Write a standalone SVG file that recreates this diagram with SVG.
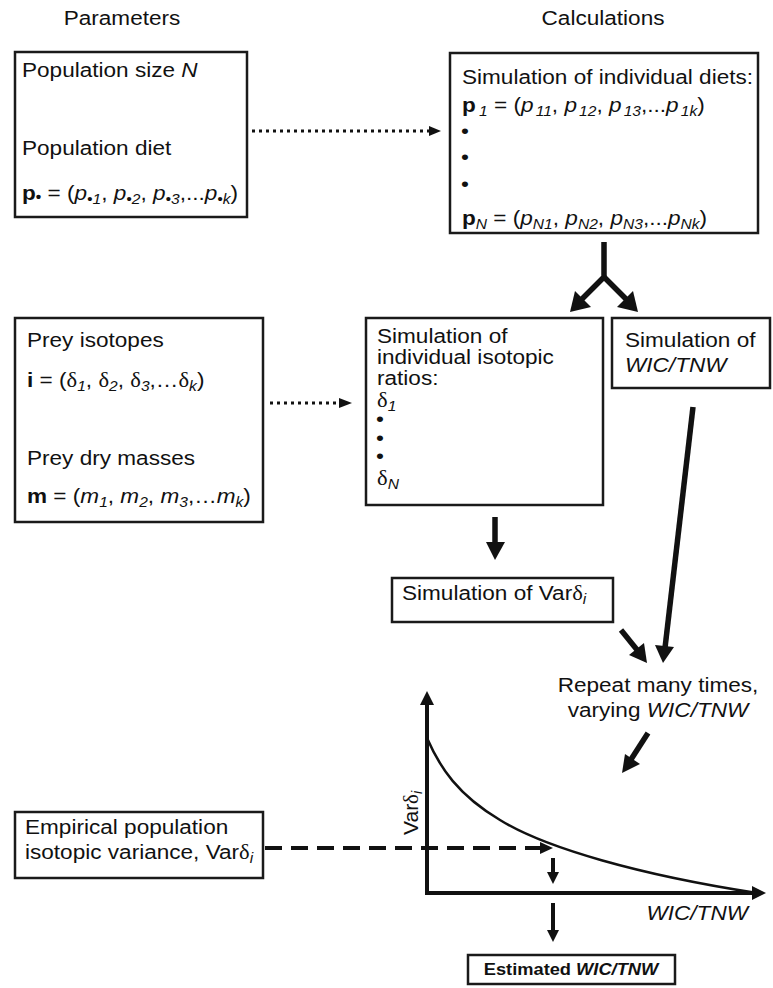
<svg xmlns="http://www.w3.org/2000/svg" width="773" height="988" viewBox="0 0 773 988">
<defs>
<style>
text{font-family:"Liberation Sans",Arial,sans-serif;font-size:21px;fill:#111}
.b{font-weight:bold}
.i{font-style:italic}
.s{font-size:14.5px}
.g{font-family:"Liberation Serif","Times New Roman",serif}
.box{fill:#fff;stroke:#1a1a1a;stroke-width:2.5}
.thick{stroke:#111;stroke-width:5.5;fill:none}
.ax{stroke:#111;stroke-width:4;fill:none}
.dot{stroke:#111;stroke-width:3;stroke-dasharray:3 4;fill:none}
.dash{stroke:#111;stroke-width:4;stroke-dasharray:17 9;fill:none}
.head{fill:#111}
</style>
</defs>
<rect width="773" height="988" fill="#fff"/>

<text id="hdr-params" transform="matrix(1.075 0 0 1 122 25)" text-anchor="middle">Parameters</text>
<text id="hdr-calc" transform="matrix(1.075 0 0 1 603 25)" text-anchor="middle">Calculations</text>

<g id="connectors">
  <line class="dot" x1="252" y1="131" x2="429" y2="131"/>
  <polygon class="head" points="429,126 441,131 429,136"/>
  <line class="dot" x1="270" y1="403" x2="339" y2="403"/>
  <polygon class="head" points="339,398 352,403 339,408"/>
  <polyline class="thick" points="604,242 604,277 580,301"/>
  <line class="thick" x1="604" y1="277" x2="628" y2="301"/>
  <polygon class="head" points="570,312 575,291 591,307"/>
  <polygon class="head" points="638,312 617,307 633,291"/>
  <line class="thick" x1="693" y1="407" x2="665" y2="648"/>
  <polygon class="head" points="663,663 655,645 674,647"/>
  <line class="thick" x1="495" y1="517" x2="495" y2="545"/>
  <polygon class="head" points="486,542 505,542 495,560"/>
  <line class="thick" x1="621" y1="630" x2="638" y2="651"/>
  <polygon class="head" points="647,663 629,655 644,643"/>
  <line class="thick" x1="648" y1="733" x2="630" y2="761"/>
  <polygon class="head" points="622,773 625,754 640,764"/>
  <line class="ax" x1="427" y1="893" x2="427" y2="702"/>
  <polygon class="head" points="420,705 427,691 434,705"/>
  <line class="ax" x1="425" y1="893" x2="754" y2="893"/>
  <polygon class="head" points="752,886 766,893 752,900"/>
  <path d="M427,738 C440,768 458,795 500,820 C545,848 640,875 757,893" stroke="#111" stroke-width="2.5" fill="none"/>
  <line class="dash" x1="265" y1="848" x2="540" y2="848"/>
  <polygon class="head" points="540,842 553,848 540,854"/>
  <line class="ax" x1="553" y1="858" x2="553" y2="874"/>
  <polygon class="head" points="547,872 559,872 553,884"/>
  <line class="ax" x1="553" y1="903" x2="553" y2="932"/>
  <polygon class="head" points="547,930 559,930 553,942"/>
</g>

<g id="node-params">
  <rect class="box" x="15" y="52" width="232" height="165"/>
  <text transform="matrix(1.075 0 0 1 22 77)">Population size <tspan class="i">N</tspan></text>
  <text transform="matrix(1.075 0 0 1 22 155)">Population diet</text>
  <text transform="matrix(1.075 0 0 1 22 200)"><tspan class="b">p</tspan><tspan class="b s" dy="2">•</tspan><tspan dy="-2"> = (</tspan><tspan class="i">p</tspan><tspan class="i s" dy="4">•1</tspan><tspan dy="-4">, </tspan><tspan class="i">p</tspan><tspan class="i s" dy="4">•2</tspan><tspan dy="-4">, </tspan><tspan class="i">p</tspan><tspan class="i s" dy="4">•3</tspan><tspan dy="-4">,...</tspan><tspan class="i">p</tspan><tspan class="i s" dy="4">•k</tspan><tspan dy="-4">)</tspan></text>
</g>

<g id="node-diets">
  <rect class="box" x="450" y="53" width="308" height="180"/>
  <text transform="matrix(1.075 0 0 1 462 84)">Simulation of individual diets:</text>
  <text transform="matrix(1.075 0 0 1 462 112)"><tspan class="b">p</tspan><tspan class="i s" dx="3" dy="4">1</tspan><tspan dy="-4"> = (</tspan><tspan class="i">p</tspan><tspan class="i s" dx="2" dy="4">11</tspan><tspan dy="-4">, </tspan><tspan class="i">p</tspan><tspan class="i s" dx="2" dy="4">12</tspan><tspan dy="-4">, </tspan><tspan class="i">p</tspan><tspan class="i s" dx="2" dy="4">13</tspan><tspan dy="-4">,...</tspan><tspan class="i">p</tspan><tspan class="i s" dx="2" dy="4">1k</tspan><tspan dy="-4">)</tspan></text>
  <text transform="matrix(1.075 0 0 1 461 138)">•</text>
  <text transform="matrix(1.075 0 0 1 461 164)">•</text>
  <text transform="matrix(1.075 0 0 1 461 191)">•</text>
  <text transform="matrix(1.075 0 0 1 462 225)"><tspan class="b">p</tspan><tspan class="i s" dy="4">N</tspan><tspan dy="-4"> = (</tspan><tspan class="i">p</tspan><tspan class="i s" dy="4">N1</tspan><tspan dy="-4">, </tspan><tspan class="i">p</tspan><tspan class="i s" dy="4">N2</tspan><tspan dy="-4">, </tspan><tspan class="i">p</tspan><tspan class="i s" dy="4">N3</tspan><tspan dy="-4">,...</tspan><tspan class="i">p</tspan><tspan class="i s" dy="4">Nk</tspan><tspan dy="-4">)</tspan></text>
</g>

<g id="node-prey">
  <rect class="box" x="15" y="318" width="248" height="204"/>
  <text transform="matrix(1.075 0 0 1 27 347)">Prey isotopes</text>
  <text transform="matrix(1.075 0 0 1 27 387)"><tspan class="b">i</tspan> = (<tspan class="g">δ</tspan><tspan class="i s" dy="4">1</tspan><tspan dy="-4">, </tspan><tspan class="g">δ</tspan><tspan class="i s" dy="4">2</tspan><tspan dy="-4">, </tspan><tspan class="g">δ</tspan><tspan class="i s" dy="4">3</tspan><tspan dy="-4">,…</tspan><tspan class="g">δ</tspan><tspan class="i s" dy="4">k</tspan><tspan dy="-4">)</tspan></text>
  <text transform="matrix(1.075 0 0 1 27 465)">Prey dry masses</text>
  <text transform="matrix(1.075 0 0 1 27 503)"><tspan class="b">m</tspan> = (<tspan class="i">m</tspan><tspan class="i s" dy="4">1</tspan><tspan dy="-4">, </tspan><tspan class="i">m</tspan><tspan class="i s" dy="4">2</tspan><tspan dy="-4">, </tspan><tspan class="i">m</tspan><tspan class="i s" dy="4">3</tspan><tspan dy="-4">,…</tspan><tspan class="i">m</tspan><tspan class="i s" dy="4">k</tspan><tspan dy="-4">)</tspan></text>
</g>

<g id="node-ratios">
  <rect class="box" x="366" y="318" width="237" height="187"/>
  <text transform="matrix(1.075 0 0 1 377 343)">Simulation of</text>
  <text transform="matrix(1.075 0 0 1 377 364)">individual isotopic</text>
  <text transform="matrix(1.075 0 0 1 377 385)">ratios:</text>
  <text transform="matrix(1.075 0 0 1 377 407)"><tspan class="g">δ</tspan><tspan class="i s" dy="4">1</tspan></text>
  <text transform="matrix(1.075 0 0 1 376 426)">•</text>
  <text transform="matrix(1.075 0 0 1 376 445)">•</text>
  <text transform="matrix(1.075 0 0 1 376 463)">•</text>
  <text transform="matrix(1.075 0 0 1 377 485)"><tspan class="g">δ</tspan><tspan class="i s" dy="4">N</tspan></text>
</g>

<g id="node-wic">
  <rect class="box" x="612" y="318" width="158" height="70"/>
  <text transform="matrix(1.075 0 0 1 625 347)">Simulation of</text>
  <text class="i" transform="matrix(1.075 0 0 1 625 372)">WIC/TNW</text>
</g>

<g id="node-var">
  <rect class="box" x="392" y="578" width="221" height="44"/>
  <text transform="matrix(1.075 0 0 1 402 600)">Simulation of Var<tspan class="g">δ</tspan><tspan class="i s" dy="4">i</tspan></text>
</g>

<g id="node-repeat">
  <text transform="matrix(1.075 0 0 1 658 692)" text-anchor="middle">Repeat many times,</text>
  <text transform="matrix(1.075 0 0 1 658 717)" text-anchor="middle">varying <tspan class="i">WIC/TNW</tspan></text>
</g>

<g id="node-graph">
  <text transform="translate(418 835) rotate(-90)">Var<tspan class="g">δ</tspan><tspan class="i s" dy="4">i</tspan></text>
  <text class="i" transform="matrix(1.075 0 0 1 748 920)" text-anchor="end">WIC/TNW</text>
</g>

<g id="node-empirical">
  <rect class="box" x="15" y="812" width="248" height="66"/>
  <text transform="matrix(1.075 0 0 1 25 834)">Empirical population</text>
  <text transform="matrix(1.075 0 0 1 25 859)">isotopic variance, Var<tspan class="g">δ</tspan><tspan class="i s" dy="4">i</tspan></text>
</g>

<g id="node-estimated">
  <rect class="box" x="468" y="955" width="207" height="29"/>
  <text class="b" style="font-size:17px" transform="matrix(1.075 0 0 1 571 975)" text-anchor="middle">Estimated <tspan class="i">WIC/TNW</tspan></text>
</g>
</svg>
